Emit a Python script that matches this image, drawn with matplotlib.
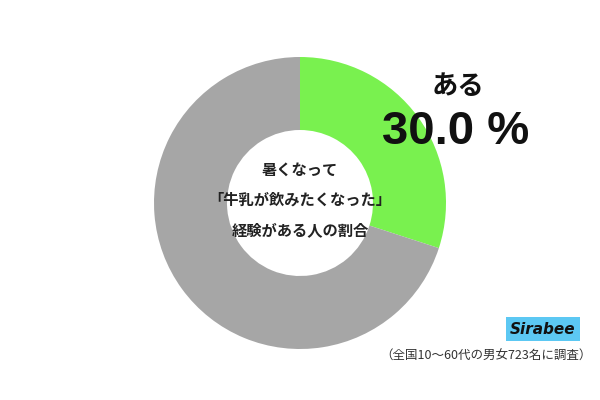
import matplotlib
matplotlib.use("Agg")
import matplotlib.pyplot as plt

plt.rcParams['font.family'] = ['Noto Sans CJK JP', 'DejaVu Sans']

categories = ["ある", "ない"]
values = [30.0, 70.0]
colors = ["#79F14F", "#A6A6A6"]
center_lines = ["暑くなって", "「牛乳が飲みたくなった」", "経験がある人の割合"]
label_text = "ある"
pct_text = "30.0 %"
footnote = "（全国10〜60代の男女723名に調査）"

fig = plt.figure(figsize=(6, 4), dpi=100)
ax = fig.add_axes([0, 0, 1, 1])
ax.set_xlim(0, 600)
ax.set_ylim(0, 400)
ax.set_aspect('equal')
ax.axis('off')

ax.pie(values, colors=colors, startangle=90, counterclock=False,
       radius=146, center=(300, 197),
       wedgeprops=dict(width=73, linewidth=0))
ax.set_xlim(0, 600)
ax.set_ylim(0, 400)

for i, line in enumerate(center_lines):
    ax.text(300, 230 - i * 30, line, ha='center', va='center',
            fontsize=11, fontweight='bold', color='#222222')

ax.text(458, 313, label_text, ha='center', va='center', fontsize=19,
        fontweight='bold', color='#111111')
ax.text(456, 268, pct_text, ha='center', va='center', fontsize=34,
        fontweight='bold', color='#111111',
        family=['Liberation Sans', 'DejaVu Sans'])

ax.text(543, 71, "Sirabee", ha='center', va='center', fontsize=11,
        fontweight='bold', style='italic', color='#111111',
        family=['DejaVu Sans'],
        bbox=dict(boxstyle='square,pad=0.3', fc='#5CC8F3', ec='none'))
ax.text(592, 44, footnote, ha='right', va='center', fontsize=9,
        color='#333333')

fig.savefig("out.png", dpi=100)
